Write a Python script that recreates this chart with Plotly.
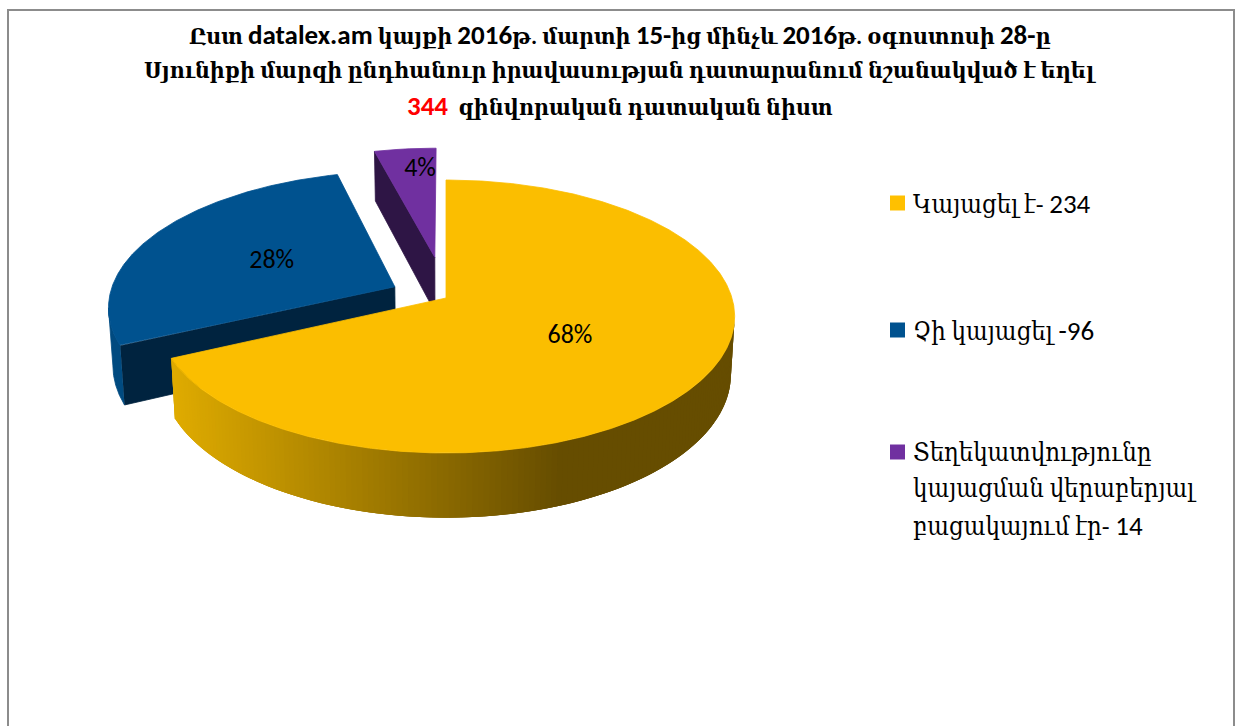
import re
import numpy as np
import plotly.graph_objects as go

# ---- data ----
categories = ["Կայացել է-", "Չի կայացել -", "Տեղեկատվությունը\nկայացման վերաբերյալ\nբացակայում էր-"]
values = [234, 96, 14]
percent_labels = ["68%", "28%", "4%"]
top_colors = ["#FBBE00", "#00528F", "#7030A0"]
legend_colors = ["#FFC000", "#00528F", "#7030A0"]
cut_colors = ["#6B5000", "#00233F", "#2E1545"]
rim_left = (224, 172, 0)
rim_right = (102, 77, 0)
explode = [0.0, 0.2, 0.32]
title_lines = ["Ըստ datalex.am կայքի 2016թ. մարտի 15-ից մինչև 2016թ. օգոստոսի 28-ը",
               "Սյունիքի մարզի ընդհանուր իրավասության դատարանում նշանակված է եղել"]
title_total = "344"
title_tail = "զինվորական դատական նիստ"

ARM = "Carlito, Lato, 'DejaVu Serif Condensed', 'DejaVu Serif', serif"
CX, CY, RX, RY, K = 446.0, 298.0, 286.0, 134.0, 0.1355
N = 720


def project(u, v):
    w = 1 + K * v
    return CX + RX * u / w, CY - RY * v / w


def lower(x, y):
    return CX + (x - CX) * 0.987, y + 60 + 0.05 * (y - 360)


def arc(a0, a1, e, mid):
    t = np.radians(np.linspace(a0, a1, N))
    ox, oy = e * np.sin(np.radians(mid)), e * np.cos(np.radians(mid))
    return project(ox + np.sin(t), oy + np.cos(t)), project(np.array([ox]), np.array([oy]))


def poly(fig, xs, ys, color, lw=0.8):
    fig.add_trace(go.Scatter(x=list(xs), y=list(ys), mode="lines", fill="toself", fillcolor=color,
                             line=dict(color=color, width=lw), hoverinfo="skip", showlegend=False))


fig = go.Figure()
total = sum(values)
edges = np.concatenate([[0], np.cumsum(values) / total * 360])
mids = (edges[:-1] + edges[1:]) / 2

# painter's order: purple, blue, yellow
for i in [2, 1, 0]:
    a0, a1, e, mid = edges[i], edges[i + 1], explode[i], mids[i]
    (ax, ay), (px, py) = arc(a0, a1, e, mid)
    lx, ly = lower(ax, ay)
    plx, ply = lower(px, py)
    if i == 2:
        poly(fig, [px[0], ax[0], lx[0], plx[0], px[0]], [py[0], ay[0], ly[0], ply[0], py[0]], cut_colors[i])
    if i == 1:
        poly(fig, [px[0], ax[0], lx[0], plx[0], px[0]], [py[0], ay[0], ly[0], ply[0], py[0]], cut_colors[i])
        stop = int(np.argmin(ax))
        poly(fig, np.concatenate([ax[:stop + 1], lx[:stop + 1][::-1]]),
             np.concatenate([ay[:stop + 1], ly[:stop + 1][::-1]]), "#004A80")
    if i == 0:
        # gradient rim: each strip overlaps the next one, which is painted over it
        start = int(np.argmax(ax))
        step = 3
        for j in range(start, N - 1, step):
            k = min(j + 3 * step, N - 1)
            xm = ax[j]
            f = np.clip((172 - xm) / (172 - 565), 0, 1)
            c = tuple(int(rim_left[n] + (rim_right[n] - rim_left[n]) * f) for n in range(3))
            col = f"rgb({c[0]},{c[1]},{c[2]})"
            seg = np.arange(j, k + 1)
            poly(fig, np.concatenate([ax[seg], lx[seg][::-1]]), np.concatenate([ay[seg], ly[seg][::-1]]), col, 0)
    poly(fig, np.concatenate([[px[0]], ax, [px[0]]]), np.concatenate([[py[0]], ay, [py[0]]]), top_colors[i])

# percent labels, placed along each slice's bisector
text_x, text_y = [], []
for i in range(3):
    t = np.radians(mids[i] + [0, 0, 2][i])
    s = explode[i] + [0.495, 0.5, 0.805][i]
    x, y = project(np.array([s * np.sin(t)]), np.array([s * np.cos(t)]))
    text_x.append(x[0])
    text_y.append(y[0] + 2)
fig.add_trace(go.Scatter(x=text_x, y=text_y, mode="text", text=percent_labels, textposition="middle center",
                         textfont=dict(family="Carlito, Lato", size=26, color="#000000"),
                         hoverinfo="skip", showlegend=False))

# legend
legend_y = [203, 330, 452]
LINE = 36.5
fig.add_trace(go.Scatter(x=[897.5] * 3, y=legend_y, mode="markers",
                         marker=dict(symbol="square", size=15, color=legend_colors, line=dict(width=0)),
                         hoverinfo="skip", showlegend=False))


def latin_big(s):
    return re.sub(r"([A-Za-z0-9.\-]*[A-Za-z0-9][A-Za-z0-9.\-]*)",
                  lambda m: f"<span style='font-size:27px'>{m.group(1)}</span>", s)


annotations = []
for i, c in enumerate(categories):
    lines = c.split("\n")
    lines[-1] = f"{lines[-1]}{values[i]}" if i == 1 else f"{lines[-1]} {values[i]}"
    for n, line in enumerate(lines):
        annotations.append(dict(x=911, y=legend_y[i] + n * LINE, xref="x", yref="y", xanchor="left",
                                yanchor="middle", align="left", showarrow=False, text=latin_big(line),
                                font=dict(family=ARM, size=25.5, color="#000000")))

title_rows = [latin_big(title_lines[0]), title_lines[1],
              f"<span style='color:#FF0000;font-size:27px'>{title_total}</span>  {title_tail}"]
for n, row in enumerate(title_rows):
    annotations.append(dict(x=620, y=34.5 + n * 35.25, xref="x", yref="y", xanchor="center", yanchor="middle",
                            align="center", showarrow=False, text=f"<b>{row}</b>",
                            font=dict(family=ARM, size=23, color="#000000")))

fig.update_layout(
    width=1235, height=726, margin=dict(l=0, r=0, t=0, b=0), autosize=False,
    paper_bgcolor="#FFFFFF", plot_bgcolor="#FFFFFF", showlegend=False,
    xaxis=dict(range=[0, 1235], visible=False, fixedrange=True),
    yaxis=dict(range=[726, 0], visible=False, fixedrange=True),
    annotations=annotations,
    shapes=[dict(type="rect", xref="x", yref="y", x0=8, x1=1234, y0=10, y1=800,
                 line=dict(color="#8C8C8C", width=2), layer="below")],
)
fig.write_html("out.html", config={"displayModeBar": False},
               post_script="document.body.style.margin='0';document.documentElement.style.overflow='hidden';")
